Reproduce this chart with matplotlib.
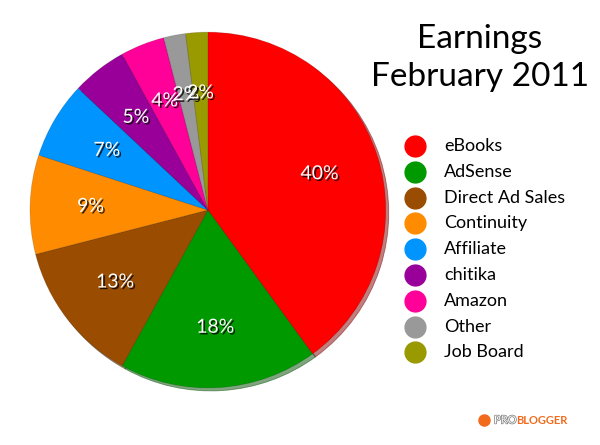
import matplotlib.pyplot as plt
import matplotlib.patheffects as pe
from matplotlib.lines import Line2D

labels = ["eBooks", "AdSense", "Direct Ad Sales", "Continuity", "Affiliate",
          "chitika", "Amazon", "Other", "Job Board"]
values = [40, 18, 13, 9, 7, 5, 4, 2, 2]
colors = ["#ff0000", "#009900", "#9a4c00", "#ff8c00", "#0094ff",
          "#990099", "#ff0099", "#999999", "#999900"]

plt.rcParams['font.family'] = ['Lato', 'DejaVu Sans']

fig = plt.figure(figsize=(6, 4.45), dpi=100)
ax = fig.add_axes([0.05, 0.128, 0.593, 0.8])

wedges, texts, autotexts = ax.pie(
    values, colors=colors, startangle=90, counterclock=False,
    autopct='%d%%', pctdistance=0.66, shadow={'ox': 0.012, 'oy': -0.012, 'shade': 0.5},
    wedgeprops={'edgecolor': (0, 0, 0, 0.15), 'linewidth': 0.6})
for t in autotexts:
    t.set_color('white')
    t.set_fontsize(14)
    t.set_path_effects([pe.withSimplePatchShadow(offset=(1.2, -1.2), shadow_rgbFace='black', alpha=0.8)])
ax.set_aspect('equal')
ax.set_xlim(-1, 1)
ax.set_ylim(-1, 1)

fig.text(0.80, 0.912, "Earnings", ha='center', va='center', fontsize=24)
fig.text(0.80, 0.828, "February 2011", ha='center', va='center', fontsize=24)

# legend: coloured dots + names
y0 = 445 - 146
for i, (lab, c) in enumerate(zip(labels, colors)):
    y = (y0 - i * 25.8) / 445
    fig.add_artist(Line2D([415 / 600], [y], marker='o', markersize=15, color=c,
                          linestyle='none', transform=fig.transFigure))
    fig.text(444 / 600, y, lab, fontsize=13, ha='left', va='center')

# logo
fig.add_artist(Line2D([484 / 600], [1 - 420 / 445], marker='o', markersize=8, color='#f26b1d',
                      linestyle='none', transform=fig.transFigure))
fig.text(494 / 600, 1 - 420 / 445, "PRO", fontsize=8, color='white', ha='left', va='center',
         path_effects=[pe.withStroke(linewidth=1, foreground='#777777')])
fig.text(516 / 600, 1 - 420 / 445, "BLOGGER", fontsize=8, color='#f26b1d', ha='left',
         va='center', fontweight='bold')

fig.savefig("out.png", dpi=100)
